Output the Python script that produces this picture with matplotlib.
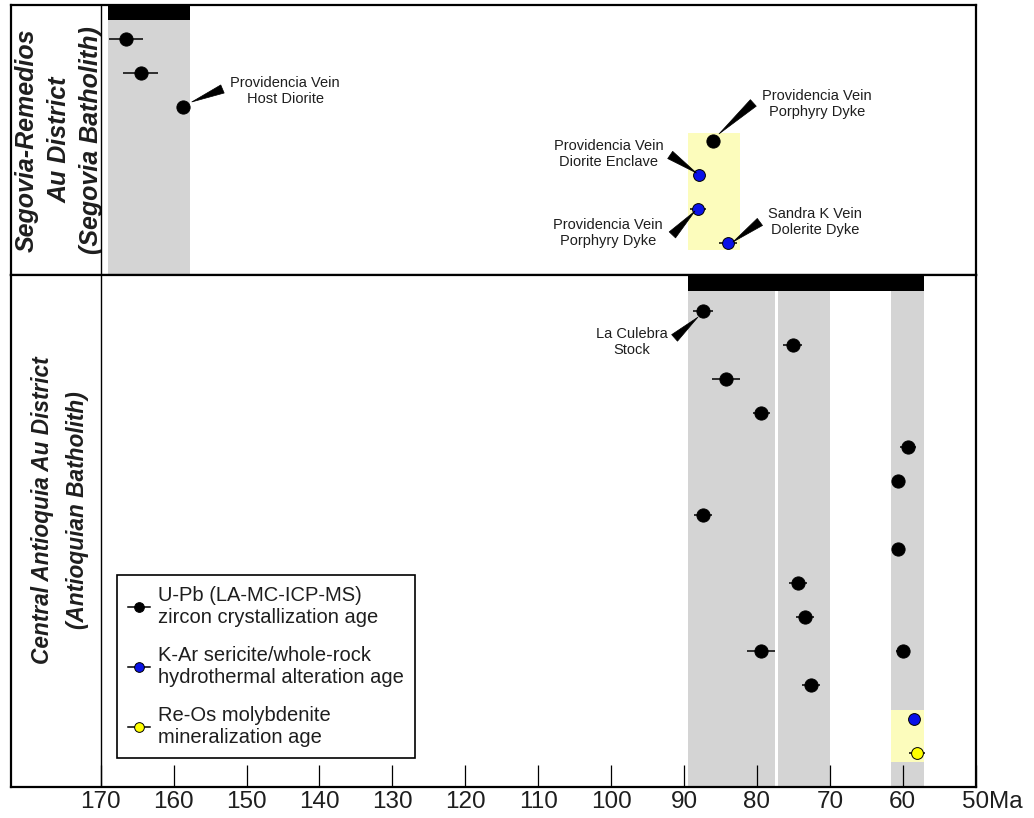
import matplotlib.pyplot as plt
from matplotlib.lines import Line2D


# ==========================================================
#   Data: ages (Ma), 2-sigma half widths, row from panel top
# ==========================================================

seg_rows = [1, 2, 3, 4, 5, 6, 7]
seg_ages = [166.5, 164.5, 158.7, 86.0, 87.9, 88.1, 84.0]
seg_errs = [2.3, 2.4, 0.3, 0.3, 0.4, 1.1, 1.2]
seg_methods = ["upb", "upb", "upb", "upb", "kar", "kar", "kar"]

ant_rows = [1, 2, 3, 4, 5, 6, 7, 8, 9, 10, 11, 11, 12, 13, 14]
ant_ages = [87.4, 75.1, 84.2, 79.4, 59.3, 60.7, 87.4, 60.7, 74.4, 73.4,
            79.4, 60.0, 72.6, 58.5, 58.0]
ant_errs = [1.4, 1.3, 1.9, 1.2, 1.1, 0.3, 1.2, 0.3, 1.2, 1.2,
            1.9, 1.0, 1.2, 0.3, 1.1]
ant_methods = ["upb"] * 13 + ["kar", "reos"]

# age intervals (Ma) of the shaded periods
seg_gray = [(169.0, 157.75)]
seg_black = (169.0, 157.75)
seg_yellow = (89.45, 82.3)
ant_gray = [(89.45, 77.5), (77.1, 70.0), (61.6, 57.1)]
ant_black = (89.45, 57.1)
ant_yellow = (61.6, 57.1)

x_ticks = [170, 160, 150, 140, 130, 120, 110, 100, 90, 80, 70, 60, 50]
x_labels = [str(t) for t in x_ticks]

seg_notes = [
    ("Providencia Vein\nHost Diorite", (144.7, 2.53), (153.3, 2.47), (157.5, 2.85)),
    ("Providencia Vein\nPorphyry Dyke", (71.8, 2.91), (80.5, 2.88), (85.2, 3.79)),
    ("Providencia Vein\nDiorite Enclave", (100.3, 4.38), (91.9, 4.41), (88.3, 4.94)),
    ("Providencia Vein\nPorphyry Dyke", (100.4, 6.70), (91.6, 6.76), (88.5, 6.06)),
    ("Sandra K Vein\nDolerite Dyke", (72.0, 6.38), (79.6, 6.38), (83.3, 6.97)),
]
ant_notes = [
    ("La Culebra\nStock", (97.2, 1.91), (91.3, 1.79), (88.1, 1.18)),
]

metodos = {
    "upb": dict(color="black", mec="black", ms=9.5,
                label="U-Pb (LA-MC-ICP-MS)\nzircon crystallization age"),
    "kar": dict(color="#0a12e8", mec="black", ms=8.5,
                label="K-Ar sericite/whole-rock\nhydrothermal alteration age"),
    "reos": dict(color="#ffff00", mec="black", ms=8.5,
                 label="Re-Os molybdenite\nmineralization age"),
}

GRAY = "#d4d4d4"
LIGHT_YELLOW = "#fcfcbc"
TXT = "#1e1e1e"


# ==========================================================
#   Helpers
# ==========================================================

def dibujar_puntos(ax, ages, errs, rows, methods):
    for age, err, row, m in zip(ages, errs, rows, methods):
        st = metodos[m]
        ax.errorbar(age, row, xerr=err, fmt="o", color=st["color"],
                    mec=st["mec"], mew=0.7, ms=st["ms"], ecolor="black",
                    elinewidth=1.1, capsize=0, zorder=5)


def dibujar_notas(ax, notes):
    for txt, pos_txt, base, tip in notes:
        ax.text(pos_txt[0], pos_txt[1], txt, ha="center", va="center",
                fontsize=10.5, linespacing=1.2, color=TXT, zorder=6)
        ax.annotate("", xy=tip, xytext=base,
                    arrowprops=dict(arrowstyle="wedge,tail_width=0.7",
                                    fc="black", ec="black", lw=0.5,
                                    shrinkA=0, shrinkB=0, mutation_scale=9),
                    zorder=6)


# ==========================================================
#   Figure
# ==========================================================

plt.rcParams["font.family"] = ["Liberation Sans", "DejaVu Sans"]

fig = plt.figure(figsize=(10.34, 8.18), dpi=100)
ax_top = fig.add_axes([0.01064, 0.6638, 0.933, 0.3301])
ax_bot = fig.add_axes([0.01064, 0.0379, 0.933, 0.6259])

for ax in (ax_top, ax_bot):
    ax.set_xlim(182.3, 50)
    ax.axvline(170, color="black", lw=1.0, zorder=7)
    for s in ax.spines.values():
        s.set_linewidth(1.6)
        s.set_zorder(8)
    ax.set_yticks([])

ax_top.set_ylim(7.94, 0)
ax_bot.set_ylim(15.0, -0.06)
ax_top.set_xticks([])

# top panel: Segovia
for a, b in seg_gray:
    ax_top.fill_betweenx([0.44, 7.94], a, b, color=GRAY, lw=0, zorder=1)
ax_top.fill_betweenx([0, 0.44], seg_black[0], seg_black[1], color="black", lw=0, zorder=2)
ax_top.fill_betweenx([3.76, 7.2], seg_yellow[0], seg_yellow[1], color=LIGHT_YELLOW, lw=0, zorder=1)
dibujar_puntos(ax_top, seg_ages, seg_errs, seg_rows, seg_methods)
dibujar_notas(ax_top, seg_notes)

# bottom panel: Antioquia
for a, b in ant_gray:
    ax_bot.fill_betweenx([0.41, 15.0], a, b, color=GRAY, lw=0, zorder=1)
ax_bot.fill_betweenx([-0.06, 0.41], ant_black[0], ant_black[1], color="black", lw=0, zorder=2)
ax_bot.fill_betweenx([12.74, 14.26], ant_yellow[0], ant_yellow[1], color=LIGHT_YELLOW, lw=0, zorder=2)
dibujar_puntos(ax_bot, ant_ages, ant_errs, ant_rows, ant_methods)
dibujar_notas(ax_bot, ant_notes)

# district labels
ax_top.text(175.7, 3.97, "Segovia-Remedios\nAu District\n(Segovia Batholith)",
            rotation=90, ha="center", va="center", multialignment="center",
            fontsize=18.0, fontweight="bold", fontstyle="italic", linespacing=1.42,
            color=TXT)
ax_bot.text(175.6, 6.85, "Central Antioquia Au District\n(Antioquian Batholith)",
            rotation=90, ha="center", va="center", multialignment="center",
            fontsize=16.3, fontweight="bold", fontstyle="italic", linespacing=1.65,
            color=TXT)

# x axis
ax_bot.set_xticks(x_ticks, x_labels)
ax_bot.tick_params(axis="x", direction="in", length=15.8, width=0.9, pad=3,
                   labelsize=17.5, labelcolor=TXT)
ax_bot.annotate("Ma", xy=(50, 0), xycoords=("data", "axes fraction"),
                xytext=(9.6, -3), textcoords="offset points", ha="left", va="top",
                fontsize=17.5, color=TXT)

# legend
handles = [Line2D([0], [0], color="black", lw=1.1, marker="o", ms=7,
                  mfc=metodos[m]["color"], mec="black", mew=0.7,
                  label=metodos[m]["label"]) for m in ("upb", "kar", "reos")]
leg = ax_bot.legend(handles=handles, loc="lower left", bbox_to_anchor=(0.11, 0.0566),
                    borderaxespad=0, fontsize=14.5, handlelength=1.1, handletextpad=0.4,
                    labelspacing=0.95, borderpad=0.55, fancybox=False, framealpha=1,
                    edgecolor="black")
leg.get_frame().set_linewidth(1.2)
for t in leg.get_texts():
    t.set_color(TXT)
leg.set_zorder(9)

plt.savefig("out.png", dpi=100)
plt.close()
